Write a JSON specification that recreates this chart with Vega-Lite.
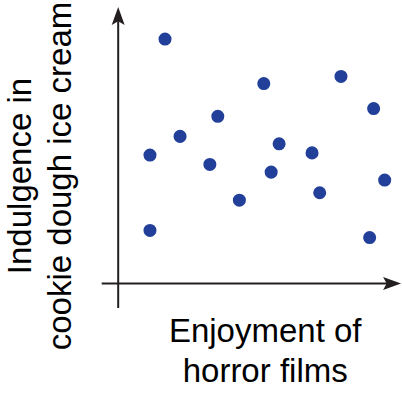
{
  "$schema": "https://vega.github.io/schema/vega-lite/v6.json",
  "width": 298,
  "height": 308,
  "autosize": {"type": "none"},
  "padding": {"left": 104, "top": 3, "right": 0, "bottom": 87},
  "background": "white",
  "config": {
    "view": {"stroke": null},
    "axis": {
      "domain": false, "ticks": false, "labels": false, "grid": false,
      "titleFont": "Liberation Sans", "titleFontSize": 33, "titleFontWeight": "normal",
      "titleColor": "#000000", "titleLineHeight": 40
    }
  },
  "datasets": {
    "points": [
      {"x": 1.65, "y": 8.89},
      {"x": 1.12, "y": 4.67},
      {"x": 2.18, "y": 5.35},
      {"x": 1.12, "y": 1.93},
      {"x": 3.23, "y": 4.33},
      {"x": 3.51, "y": 6.08},
      {"x": 4.27, "y": 3.03},
      {"x": 5.13, "y": 7.27},
      {"x": 5.39, "y": 4.05},
      {"x": 5.67, "y": 5.08},
      {"x": 6.83, "y": 4.75},
      {"x": 7.10, "y": 3.30},
      {"x": 7.85, "y": 7.53},
      {"x": 9.00, "y": 6.36},
      {"x": 9.39, "y": 3.76},
      {"x": 8.86, "y": 1.67}
    ],
    "axes": [
      {"x": 0, "y": -0.89, "x2": 0, "y2": 9.6},
      {"x": -0.58, "y": 0, "x2": 9.6, "y2": 0}
    ],
    "uparrow": [{"x": 0, "y": 9.73}],
    "rightarrow": [{"x": 9.65, "y": 0}]
  },
  "layer": [
    {
      "data": {"name": "points"},
      "mark": {"type": "point", "filled": true, "opacity": 1, "size": 170, "color": "#22409a", "strokeWidth": 0},
      "encoding": {
        "x": {
          "field": "x", "type": "quantitative",
          "scale": {"domain": [-0.5, 10], "nice": false, "zero": false},
          "axis": {
            "title": ["Enjoyment of", "horror films"],
            "titleBaseline": "alphabetic", "titleAlign": "center",
            "titleX": 160.7, "titleY": 30.7
          }
        },
        "y": {
          "field": "y", "type": "quantitative",
          "scale": {"domain": [-1, 10.2], "nice": false, "zero": false},
          "axis": {
            "title": ["Indulgence in", "cookie dough ice cream"],
            "titleBaseline": "alphabetic", "titleAlign": "center", "titleAngle": 270,
            "titleX": -74, "titleY": 172.5
          }
        }
      }
    },
    {
      "data": {"name": "axes"},
      "mark": {"type": "rule", "color": "#231f20", "strokeWidth": 2},
      "encoding": {
        "x": {"field": "x", "type": "quantitative"},
        "y": {"field": "y", "type": "quantitative"},
        "x2": {"field": "x2"},
        "y2": {"field": "y2"}
      }
    },
    {
      "data": {"name": "uparrow"},
      "mark": {"type": "point", "filled": true, "opacity": 1, "size": 324, "color": "#231f20", "strokeWidth": 0, "shape": "M0,-1L0.72,1L0,0.6L-0.72,1Z"},
      "encoding": {
        "x": {"field": "x", "type": "quantitative"},
        "y": {"field": "y", "type": "quantitative"}
      }
    },
    {
      "data": {"name": "rightarrow"},
      "mark": {"type": "point", "filled": true, "opacity": 1, "size": 324, "color": "#231f20", "strokeWidth": 0, "shape": "M1,0L-1,0.72L-0.6,0L-1,-0.72Z"},
      "encoding": {
        "x": {"field": "x", "type": "quantitative"},
        "y": {"field": "y", "type": "quantitative"}
      }
    }
  ]
}
